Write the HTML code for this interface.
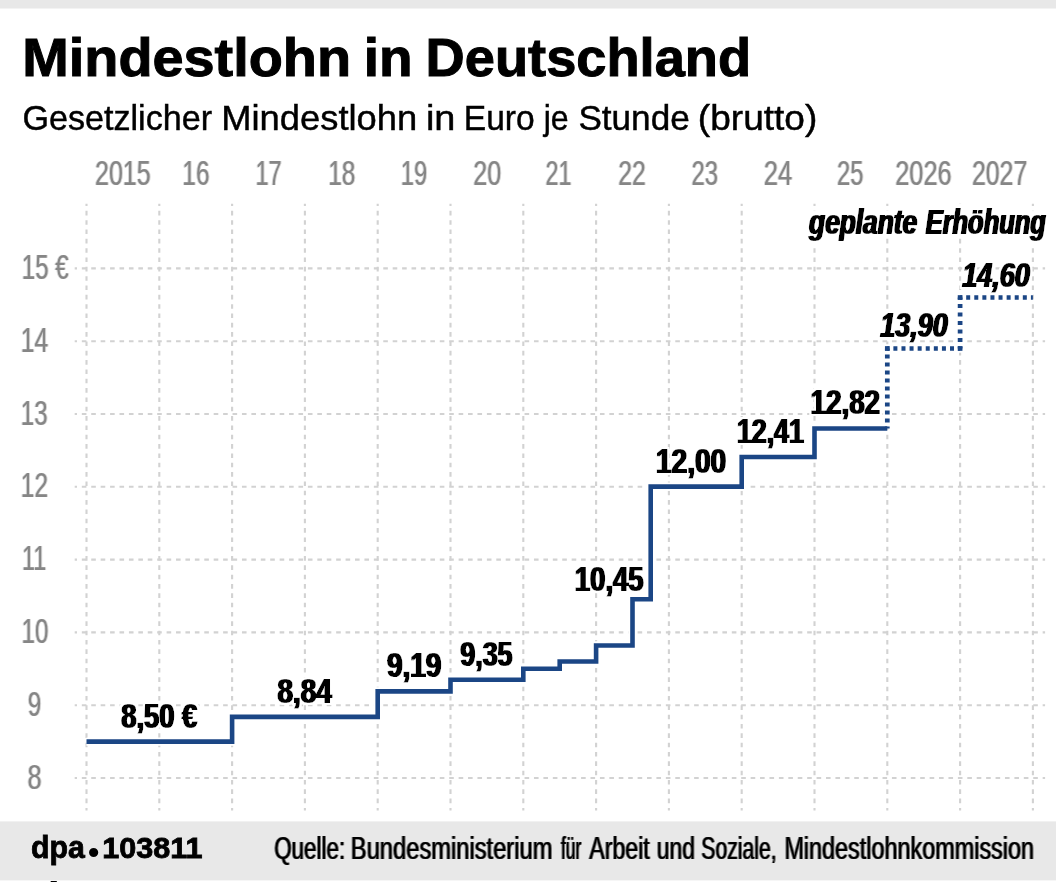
<!DOCTYPE html>
<html lang="de"><head><meta charset="utf-8"><title>Mindestlohn in Deutschland</title>
<style>html,body{margin:0;padding:0;background:#fff}body{width:1056px;height:882px;overflow:hidden}svg{display:block}text{font-family:"Liberation Sans", sans-serif;fill:#000}.ax text{fill:#868686}.grid{stroke:#d2d2d2;stroke-width:2.1;fill:none}</style></head><body>
<svg width="1056" height="882" viewBox="0 0 1056 882">
<defs><filter id="fat" x="-10%" y="-20%" width="120%" height="140%"><feMorphology in="SourceAlpha" operator="dilate" radius="3 2" result="h"/><feFlood flood-color="#fff"/><feComposite in2="h" operator="in" result="halo"/><feMorphology in="SourceGraphic" operator="dilate" radius="1 0" result="f"/><feMerge><feMergeNode in="halo"/><feMergeNode in="f"/></feMerge></filter><filter id="fat2" x="-10%" y="-20%" width="120%" height="140%"><feMorphology in="SourceAlpha" operator="dilate" radius="5 4" result="h"/><feFlood flood-color="#fff"/><feComposite in2="h" operator="in" result="halo"/><feMorphology in="SourceGraphic" operator="dilate" radius="1 0" result="f"/><feMerge><feMergeNode in="halo"/><feMergeNode in="f"/></feMerge></filter><filter id="fr" x="-10%" y="-20%" width="120%" height="140%"><feMorphology in="SourceGraphic" operator="dilate" radius="1 0" result="d"/><feComponentTransfer in="d" result="d2"><feFuncA type="linear" slope="0.35"/></feComponentTransfer><feMerge><feMergeNode in="d2"/><feMergeNode in="SourceGraphic"/></feMerge></filter><filter id="fr2" x="-10%" y="-20%" width="120%" height="140%"><feMorphology in="SourceGraphic" operator="dilate" radius="1 0" result="d"/><feComponentTransfer in="d" result="d2"><feFuncA type="linear" slope="0.5"/></feComponentTransfer><feMerge><feMergeNode in="d2"/><feMergeNode in="SourceGraphic"/></feMerge></filter></defs>
<rect x="0" y="0" width="1056" height="882" fill="#fff"/>
<rect x="0" y="0" width="1056" height="8.5" fill="#e8e8e8"/>
<rect x="0" y="821.4" width="1056" height="59" fill="#e8e8e8"/>
<g class="grid">
<g stroke-dasharray="4.6 4.73" stroke-dashoffset="2.3">
<line x1="86.50" y1="203.8" x2="86.50" y2="810.5"/>
<line x1="159.30" y1="203.8" x2="159.30" y2="810.5"/>
<line x1="232.10" y1="203.8" x2="232.10" y2="810.5"/>
<line x1="304.90" y1="203.8" x2="304.90" y2="810.5"/>
<line x1="377.70" y1="203.8" x2="377.70" y2="810.5"/>
<line x1="450.50" y1="203.8" x2="450.50" y2="810.5"/>
<line x1="523.30" y1="203.8" x2="523.30" y2="810.5"/>
<line x1="596.10" y1="203.8" x2="596.10" y2="810.5"/>
<line x1="668.90" y1="203.8" x2="668.90" y2="810.5"/>
<line x1="741.70" y1="203.8" x2="741.70" y2="810.5"/>
<line x1="814.50" y1="203.8" x2="814.50" y2="810.5"/>
<line x1="887.30" y1="203.8" x2="887.30" y2="810.5"/>
<line x1="960.10" y1="203.8" x2="960.10" y2="810.5"/>
<line x1="1032.90" y1="203.8" x2="1032.90" y2="810.5"/>
</g><g stroke-dasharray="4.6 4.82" stroke-dashoffset="2.3">
<line x1="74.7" y1="778.00" x2="1045.1" y2="778.00"/>
<line x1="74.7" y1="705.20" x2="1045.1" y2="705.20"/>
<line x1="74.7" y1="632.40" x2="1045.1" y2="632.40"/>
<line x1="74.7" y1="559.60" x2="1045.1" y2="559.60"/>
<line x1="74.7" y1="486.80" x2="1045.1" y2="486.80"/>
<line x1="74.7" y1="414.00" x2="1045.1" y2="414.00"/>
<line x1="74.7" y1="341.20" x2="1045.1" y2="341.20"/>
<line x1="74.7" y1="268.40" x2="1045.1" y2="268.40"/>
</g></g>
<g>
<text x="22.27" y="76.30" font-size="53.5" textLength="328.75" lengthAdjust="spacingAndGlyphs" font-weight="bold" stroke="#000" stroke-width="1">Mindestlohn</text>
<text x="363.65" y="76.30" font-size="53.5" textLength="48.83" lengthAdjust="spacingAndGlyphs" font-weight="bold" stroke="#000" stroke-width="1">in</text>
<text x="425.62" y="76.30" font-size="53.5" textLength="325.52" lengthAdjust="spacingAndGlyphs" font-weight="bold" stroke="#000" stroke-width="1">Deutschland</text>
<text x="22.45" y="130.00" font-size="35.5" textLength="189.57" lengthAdjust="spacingAndGlyphs" stroke="#000" stroke-width="0.45">Gesetzlicher</text>
<text x="221.23" y="130.00" font-size="35.5" textLength="196.00" lengthAdjust="spacingAndGlyphs" stroke="#000" stroke-width="0.45">Mindestlohn</text>
<text x="425.94" y="130.00" font-size="35.5" textLength="29.52" lengthAdjust="spacingAndGlyphs" stroke="#000" stroke-width="0.45">in</text>
<text x="463.75" y="130.00" font-size="35.5" textLength="70.93" lengthAdjust="spacingAndGlyphs" stroke="#000" stroke-width="0.45">Euro</text>
<text x="543.65" y="130.00" font-size="35.5" textLength="24.92" lengthAdjust="spacingAndGlyphs" stroke="#000" stroke-width="0.45">je</text>
<text x="578.39" y="130.00" font-size="35.5" textLength="111.35" lengthAdjust="spacingAndGlyphs" stroke="#000" stroke-width="0.45">Stunde</text>
<text x="697.86" y="130.00" font-size="35.5" textLength="119.40" lengthAdjust="spacingAndGlyphs" stroke="#000" stroke-width="0.45">(brutto)</text>
</g>
<g class="ax">
<text x="95.02" y="185.10" font-size="35" textLength="55.69" lengthAdjust="spacingAndGlyphs" filter="url(#fr)">2015</text>
<text x="182.34" y="185.10" font-size="35" textLength="27.10" lengthAdjust="spacingAndGlyphs" filter="url(#fr)">16</text>
<text x="255.50" y="185.10" font-size="35" textLength="26.20" lengthAdjust="spacingAndGlyphs" filter="url(#fr)">17</text>
<text x="328.24" y="185.10" font-size="35" textLength="27.20" lengthAdjust="spacingAndGlyphs" filter="url(#fr)">18</text>
<text x="400.79" y="185.10" font-size="35" textLength="26.38" lengthAdjust="spacingAndGlyphs" filter="url(#fr)">19</text>
<text x="473.22" y="185.10" font-size="35" textLength="27.92" lengthAdjust="spacingAndGlyphs" filter="url(#fr)">20</text>
<text x="545.61" y="185.10" font-size="35" textLength="25.95" lengthAdjust="spacingAndGlyphs" filter="url(#fr)">21</text>
<text x="618.23" y="185.10" font-size="35" textLength="27.56" lengthAdjust="spacingAndGlyphs" filter="url(#fr)">22</text>
<text x="691.58" y="185.10" font-size="35" textLength="26.56" lengthAdjust="spacingAndGlyphs" filter="url(#fr)">23</text>
<text x="763.80" y="185.10" font-size="35" textLength="28.47" lengthAdjust="spacingAndGlyphs" filter="url(#fr)">24</text>
<text x="837.09" y="185.10" font-size="35" textLength="26.36" lengthAdjust="spacingAndGlyphs" filter="url(#fr)">25</text>
<text x="895.21" y="185.10" font-size="35" textLength="56.44" lengthAdjust="spacingAndGlyphs" filter="url(#fr)">2026</text>
<text x="971.93" y="185.10" font-size="35" textLength="55.39" lengthAdjust="spacingAndGlyphs" filter="url(#fr)">2027</text>
<text x="27.42" y="788.80" font-size="35" textLength="14.14" lengthAdjust="spacingAndGlyphs" filter="url(#fr)">8</text>
<text x="27.70" y="716.00" font-size="35" textLength="13.49" lengthAdjust="spacingAndGlyphs" filter="url(#fr)">9</text>
<text x="21.46" y="643.20" font-size="35" textLength="26.90" lengthAdjust="spacingAndGlyphs" filter="url(#fr)">10</text>
<text x="21.92" y="570.40" font-size="35" textLength="24.24" lengthAdjust="spacingAndGlyphs" filter="url(#fr)">11</text>
<text x="20.84" y="497.40" font-size="35" textLength="27.15" lengthAdjust="spacingAndGlyphs" filter="url(#fr)">12</text>
<text x="20.87" y="424.80" font-size="35" textLength="26.71" lengthAdjust="spacingAndGlyphs" filter="url(#fr)">13</text>
<text x="20.83" y="352.00" font-size="35" textLength="27.37" lengthAdjust="spacingAndGlyphs" filter="url(#fr)">14</text>
<text x="21.77" y="279.20" font-size="35" textLength="46.78" lengthAdjust="spacingAndGlyphs" filter="url(#fr)">15 €</text>
</g>
<path d="M86.50 741.60 H232.10 V716.85 H377.70 V691.37 H450.50 V679.72 H523.30 V668.80 H559.70 V661.52 H596.10 V645.50 H632.50 V599.30 H650.70 V486.60 H741.70 V456.95 H814.50 V428.50 H887.30 M887.30 428.50 V348.48 H960.10 V297.52 H1032.90" fill="none" stroke="#fff" stroke-width="8.4" stroke-linejoin="miter"/>
<g class="halo">
<text x="121.30" y="727.90" font-size="35" textLength="75.87" lengthAdjust="spacingAndGlyphs" font-weight="bold" filter="url(#fat)">8,50 €</text>
<text x="277.43" y="702.90" font-size="35" textLength="54.24" lengthAdjust="spacingAndGlyphs" font-weight="bold" filter="url(#fat)">8,84</text>
<text x="386.91" y="677.40" font-size="35" textLength="54.34" lengthAdjust="spacingAndGlyphs" font-weight="bold" filter="url(#fat)">9,19</text>
<text x="460.32" y="665.70" font-size="35" textLength="52.23" lengthAdjust="spacingAndGlyphs" font-weight="bold" filter="url(#fat)">9,35</text>
<text x="574.77" y="591.00" font-size="35" textLength="68.88" lengthAdjust="spacingAndGlyphs" font-weight="bold" filter="url(#fat)">10,45</text>
<text x="655.94" y="472.90" font-size="35" textLength="70.32" lengthAdjust="spacingAndGlyphs" font-weight="bold" filter="url(#fat)">12,00</text>
<text x="736.92" y="443.10" font-size="35" textLength="66.89" lengthAdjust="spacingAndGlyphs" font-weight="bold" filter="url(#fat)">12,41</text>
<text x="810.45" y="414.20" font-size="35" textLength="69.65" lengthAdjust="spacingAndGlyphs" font-weight="bold" filter="url(#fat)">12,82</text>
<text x="880.29" y="336.80" font-size="35" textLength="67.33" lengthAdjust="spacingAndGlyphs" font-weight="bold" font-style="italic" filter="url(#fat)">13,90</text>
<text x="962.20" y="286.60" font-size="35" textLength="67.70" lengthAdjust="spacingAndGlyphs" font-weight="bold" font-style="italic" filter="url(#fat)">14,60</text>
<text x="809.10" y="233.50" font-size="35" textLength="108.02" lengthAdjust="spacingAndGlyphs" font-weight="bold" font-style="italic" filter="url(#fat2)">geplante</text>
<text x="925.69" y="233.50" font-size="35" textLength="120.09" lengthAdjust="spacingAndGlyphs" font-weight="bold" font-style="italic" filter="url(#fat2)">Erhöhung</text>
</g>
<path d="M86.50 741.60 H232.10 V716.85 H377.70 V691.37 H450.50 V679.72 H523.30 V668.80 H559.70 V661.52 H596.10 V645.50 H632.50 V599.30 H650.70 V486.60 H741.70 V456.95 H814.50 V428.50 H887.30" fill="none" stroke="#1b4685" stroke-width="4.6" stroke-linejoin="miter"/>
<g fill="none" stroke="#1b4685" stroke-width="4.7">
<line x1="887.30" y1="428.50" x2="887.30" y2="348.48" stroke-dasharray="4 4.002" stroke-dashoffset="2"/>
<line x1="887.30" y1="348.48" x2="960.10" y2="348.48" stroke-dasharray="4 4.089" stroke-dashoffset="2"/>
<line x1="960.10" y1="348.48" x2="960.10" y2="297.52" stroke-dasharray="4 4.493" stroke-dashoffset="2"/>
<line x1="960.10" y1="297.52" x2="1032.90" y2="297.52" stroke-dasharray="4 4.089" stroke-dashoffset="2"/>
</g>
<rect x="884.95" y="346.13" width="4.7" height="4.7" fill="#1b4685"/>
<rect x="957.75" y="346.13" width="4.7" height="4.7" fill="#1b4685"/>
<rect x="957.75" y="295.17" width="4.7" height="4.7" fill="#1b4685"/>
<g>
<text x="31.12" y="858.00" font-size="31" textLength="53.82" lengthAdjust="spacingAndGlyphs" font-weight="bold" stroke="#000" stroke-width="0.8">dpa</text>
<text x="88.0" y="862.6" font-size="32.2" font-weight="bold">•</text>
<text x="102.22" y="858.00" font-size="29" textLength="100.33" lengthAdjust="spacingAndGlyphs" font-weight="bold" stroke="#000" stroke-width="0.8">103811</text>
<text x="274.19" y="858.50" font-size="31" textLength="70.97" lengthAdjust="spacingAndGlyphs" filter="url(#fr2)">Quelle:</text>
<text x="350.85" y="858.50" font-size="31" textLength="201.59" lengthAdjust="spacingAndGlyphs" filter="url(#fr2)">Bundesministerium</text>
<text x="561.04" y="858.50" font-size="31" textLength="20.14" lengthAdjust="spacingAndGlyphs" filter="url(#fr2)">für</text>
<text x="589.34" y="858.50" font-size="31" textLength="60.47" lengthAdjust="spacingAndGlyphs" filter="url(#fr2)">Arbeit</text>
<text x="656.80" y="858.50" font-size="31" textLength="38.16" lengthAdjust="spacingAndGlyphs" filter="url(#fr2)">und</text>
<text x="701.27" y="858.50" font-size="31" textLength="75.34" lengthAdjust="spacingAndGlyphs" filter="url(#fr2)">Soziale,</text>
<text x="784.38" y="858.50" font-size="31" textLength="249.67" lengthAdjust="spacingAndGlyphs" filter="url(#fr2)">Mindestlohnkommission</text>
</g>
<rect x="50.7" y="881" width="6.1" height="1" fill="#000"/>
</svg></body></html>
